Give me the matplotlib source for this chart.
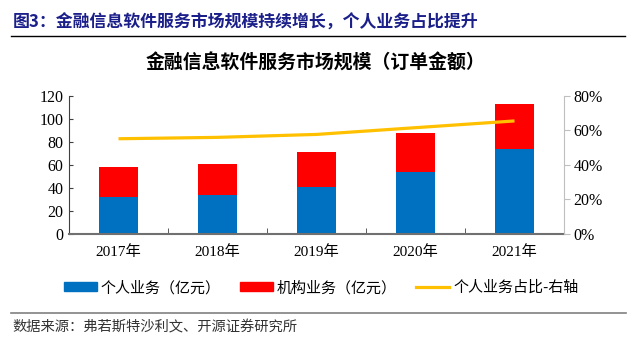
import numpy as np
import matplotlib
matplotlib.use("Agg")
from matplotlib import pyplot as plt
from matplotlib.lines import Line2D
from matplotlib.patches import Patch

plt.rcParams['font.family'] = ['Noto Sans CJK SC', 'DejaVu Sans']

# market size, 亿元
years = ['2017年', '2018年', '2019年', '2020年', '2021年']
personal = [32, 34, 41, 54, 74]
institution = [26, 27, 30, 34, 39]
personal_share = [55.1, 55.9, 57.6, 61.5, 65.4]

BLUE = '#0070C0'
RED = '#FF0000'
YELLOW = '#FFC000'
SERIF = ['Liberation Serif', 'Noto Sans CJK SC']

fig = plt.figure(figsize=(6.35, 3.42), dpi=100)

# header
fig.text(13 / 635, 1 - 23 / 342, '图3：金融信息软件服务市场规模持续增长，个人业务占比提升',
         fontsize=12.2, fontweight='bold', color='#1B1F8A', va='center', ha='left')
fig.add_artist(Line2D([11 / 635, 625 / 635], [1 - 36 / 342] * 2, color='black', lw=1.0))
fig.text(315 / 635, 1 - 63 / 342, '金融信息软件服务市场规模（订单金额）',
         fontsize=13.6, fontweight='bold', color='black', va='center', ha='center')

ax = fig.add_axes([69 / 635, 1 - 234 / 342, 495 / 635, 138.3 / 342])
x = np.arange(len(years))
ax.bar(x, personal, width=0.4, color=BLUE, zorder=2)
ax.bar(x, institution, width=0.4, bottom=personal, color=RED, zorder=2)
ax.set_xlim(-0.5, len(years) - 0.5)
ax.set_ylim(0, 120)
ax.set_yticks(range(0, 121, 20))
ax.set_xticks(x)
ax.set_xticklabels(years, family=SERIF, fontsize=11)
ax.set_xticks(np.arange(0.5, len(years) - 1, 1), minor=True)
ax.tick_params(axis='x', which='major', length=0, pad=8)
ax.tick_params(axis='x', which='minor', length=4, direction='in', color='#404040')
ax.tick_params(axis='y', length=3, direction='in', color='#404040', pad=4)
for lab in ax.get_yticklabels():
    lab.set_family(SERIF)
    lab.set_fontsize(11.5)
ax.spines['top'].set_visible(False)
ax.spines['right'].set_visible(False)
ax.spines['left'].set_color('#404040')
ax.spines['bottom'].set_color('#707070')
ax.spines['bottom'].set_linewidth(1.5)

ax2 = ax.twinx()
ax2.plot(x, personal_share, color=YELLOW, lw=2.3, solid_capstyle='butt', zorder=3)
ax2.set_ylim(0, 80)
ax2.set_yticks(range(0, 81, 20))
ax2.set_yticklabels([f'{v}%' for v in range(0, 81, 20)], family=SERIF, fontsize=11.5)
ax2.tick_params(axis='y', length=4, color='#BFBFBF', pad=3)
for s in ['top', 'left', 'bottom']:
    ax2.spines[s].set_visible(False)
ax2.spines['right'].set_color('#BFBFBF')

handles = [Patch(color=BLUE), Patch(color=RED), Line2D([], [], color=YELLOW, lw=2.3)]
labels = ['个人业务（亿元）', '机构业务（亿元）', '个人业务占比-右轴']
fig.legend(handles, labels, loc='center', bbox_to_anchor=(321 / 635, 1 - 288 / 342),
           ncol=3, frameon=False, fontsize=10.8, handlelength=2.2, handleheight=0.55,
           handletextpad=0.25, columnspacing=1.3)

# footer
fig.add_artist(Line2D([11 / 635, 626 / 635], [1 - 313 / 342] * 2, color='#808080', lw=1.2))
fig.text(12 / 635, 1 - 327 / 342, '数据来源：弗若斯特沙利文、开源证券研究所',
         fontsize=10.3, color='#333333', va='center', ha='left')

fig.savefig('out.png', dpi=100)
